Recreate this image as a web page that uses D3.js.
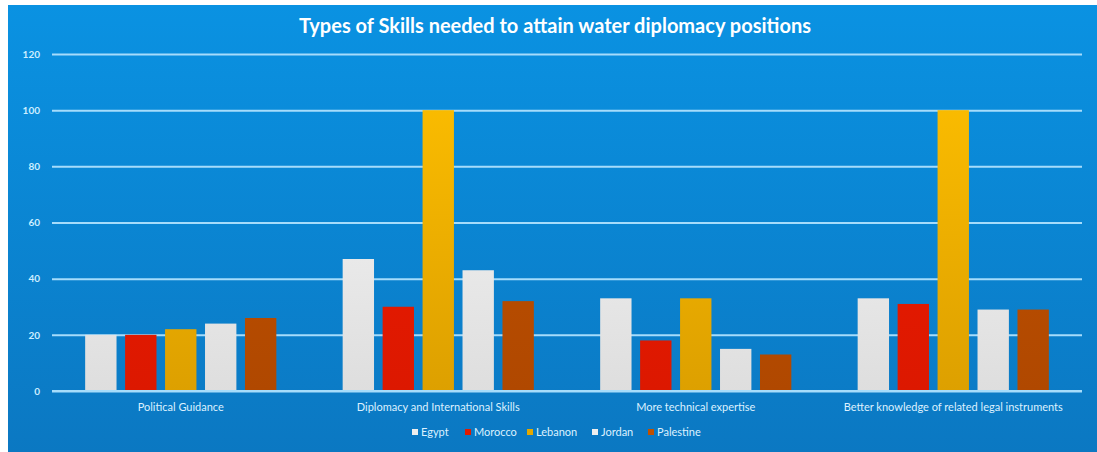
<!DOCTYPE html>
<html>
<head>
<meta charset="utf-8">
<script src="https://cdn.jsdelivr.net/npm/d3@7/dist/d3.min.js"></script>
<style>
  html, body { margin: 0; padding: 0; background: #ffffff; }
  svg { display: block; }
</style>
</head>
<body>
<svg id="chart" width="1097" height="452"></svg>
<script>
// Survey categories and per-country values (%)
const categories = [
  "Political Guidance",
  "Diplomacy and International Skills",
  "More technical expertise",
  "Better knowledge of related legal instruments"
];
const countries = ["Egypt", "Morocco", "Lebanon", "Jordan", "Palestine"];
const egypt     = [20, 47, 33, 33];
const morocco   = [20, 30, 18, 31];
const lebanon   = [22, 100, 33, 100];
const jordan    = [24, 43, 15, 29];
const palestine = [26, 32, 13, 29];
const yTicks = [0, 20, 40, 60, 80, 100, 120];
const title = "Types of Skills needed to attain water diplomacy positions";

const seriesValues = [egypt, morocco, lebanon, jordan, palestine];

const W = 1097, H = 452;
const svg = d3.select("#chart");
const defs = svg.append("defs");

const margin = { left: 52, right: 15, top: 54, bottom: 61 };
const plotTop = margin.top, plotBottom = H - margin.bottom;

// Background gradient panel
const bg = defs.append("linearGradient").attr("id", "bg")
  .attr("x1", 0).attr("y1", 0).attr("x2", 0).attr("y2", 1);
bg.append("stop").attr("offset", "0%").attr("stop-color", "#0a92e2");
bg.append("stop").attr("offset", "100%").attr("stop-color", "#0b78c2");
svg.append("rect").attr("x", 8).attr("y", 5).attr("width", W - 8).attr("height", H - 5)
  .attr("fill", "url(#bg)");

// Bar fills: vertical gradients spanning the plot height
function barGrad(id, top, bottom) {
  const g = defs.append("linearGradient").attr("id", id)
    .attr("gradientUnits", "userSpaceOnUse")
    .attr("x1", 0).attr("y1", plotTop).attr("x2", 0).attr("y2", plotBottom);
  g.append("stop").attr("offset", "0%").attr("stop-color", top);
  g.append("stop").attr("offset", "100%").attr("stop-color", bottom);
}
barGrad("gWhite", "#fafafa", "#dedede");
barGrad("gRed", "#f01c00", "#dc1800");
barGrad("gGold", "#ffc000", "#dda000");
barGrad("gBrown", "#c45400", "#b04800");
const fills = ["url(#gWhite)", "url(#gRed)", "url(#gGold)", "url(#gWhite)", "url(#gBrown)"];
const swatch = ["#eeeeee", "#e01a00", "#e3a800", "#eeeeee", "#c05000"];

const x0 = d3.scaleBand().domain(categories)
  .range([margin.left, W - margin.right]).paddingInner(0).paddingOuter(0);
const x1 = d3.scaleBand().domain(countries)
  .range([0, x0.bandwidth()]).paddingInner(0.215).paddingOuter(0.83);
const y = d3.scaleLinear().domain([0, 120]).range([plotBottom, plotTop]);

// Title
svg.append("text").attr("x", 555).attr("y", 33)
  .attr("text-anchor", "middle")
  .attr("font-family", "Lato, sans-serif").attr("font-weight", "bold")
  .attr("font-size", 20).attr("fill", "#ffffff")
  .text(title);

// Gridlines
const yAxis = svg.append("g").attr("transform", `translate(${margin.left},0)`)
  .call(d3.axisLeft(y).tickValues(yTicks).tickSize(-(W - margin.left - margin.right)).tickPadding(12));
yAxis.select(".domain").remove();
yAxis.selectAll(".tick line").attr("stroke", "#a6dcfb").attr("stroke-width", 2);
yAxis.selectAll(".tick text")
  .attr("font-family", "Lato, sans-serif").attr("font-weight", "bold")
  .attr("font-size", 10).attr("fill", "#cdeeff");

// Bars
const groups = svg.append("g").selectAll("g").data(categories).join("g")
  .attr("transform", d => `translate(${x0(d)},0)`);
groups.selectAll("rect")
  .data((c, ci) => countries.map((k, si) => ({ k, si, v: seriesValues[si][ci] })))
  .join("rect")
  .attr("x", d => x1(d.k))
  .attr("width", x1.bandwidth())
  .attr("y", d => y(d.v))
  .attr("height", d => y(0) - y(d.v))
  .attr("fill", d => fills[d.si]);

// Baseline redrawn over bars
svg.append("line").attr("x1", margin.left).attr("x2", W - margin.right)
  .attr("y1", y(0)).attr("y2", y(0)).attr("stroke", "#a6dcfb").attr("stroke-width", 2);

// Category labels
const xAxis = svg.append("g").attr("transform", `translate(0,${plotBottom})`)
  .call(d3.axisBottom(x0).tickSize(0).tickPadding(12));
xAxis.select(".domain").remove();
xAxis.selectAll(".tick text")
  .attr("font-family", "Lato, sans-serif").attr("font-size", 11).attr("fill", "#dcf1ff");

// Legend
const legendX = [412, 465, 527, 592, 648];
const legend = svg.append("g").selectAll("g").data(countries).join("g")
  .attr("transform", (d, i) => `translate(${legendX[i]},436)`);
legend.append("rect").attr("x", 0).attr("y", -7).attr("width", 6).attr("height", 6)
  .attr("fill", (d, i) => swatch[i]);
legend.append("text").attr("x", 9).attr("y", 0)
  .attr("font-family", "Lato, sans-serif").attr("font-size", 11).attr("fill", "#dcf1ff")
  .text(d => d);
</script>
</body>
</html>
